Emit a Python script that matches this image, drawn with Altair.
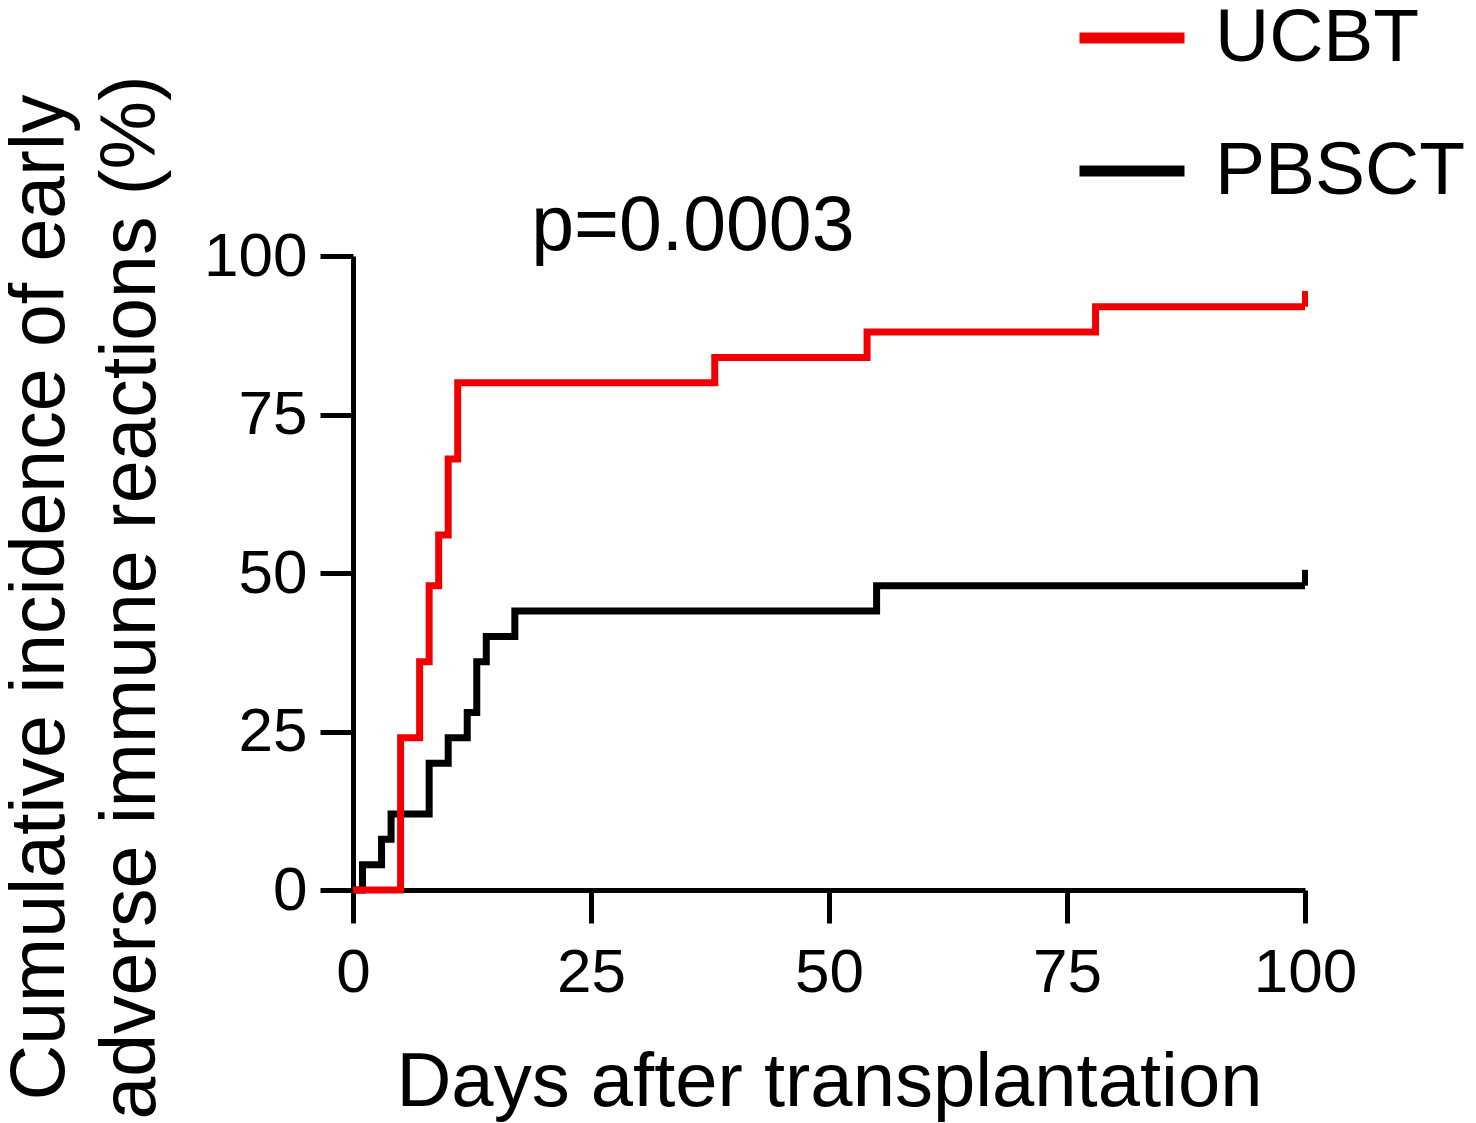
import altair as alt
import pandas as pd

# ---- data ----
groups = ["UCBT", "PBSCT"]
colors = ["#f00000", "#000000"]

ucbt_days = [0, 5, 7, 8, 9, 10, 11, 38, 54, 78, 100]
ucbt_pct = [0, 24, 36, 48, 56, 68, 80, 84, 88, 92, 92]

pbsct_days = [0, 1, 3, 4, 8, 10, 12, 13, 14, 17, 55, 100]
pbsct_pct = [0, 4, 8, 12, 20, 24, 28, 36, 40, 44, 48, 48]

censor_group = ["UCBT", "PBSCT"]
censor_day = [100, 100]
censor_low = [92, 48]
censor_high = [94.5, 50.5]

x_ticks = [0, 25, 50, 75, 100]
y_ticks = [0, 25, 50, 75, 100]

p_text = ["p=0.0003"]
p_day = [35.7]
p_pct = [101]

x_title = "Days after transplantation"
y_title = ["Cumulative incidence of early", "adverse immune reactions (%)"]

# ---- tables ----
rows = []
for d, v in zip(pbsct_days, pbsct_pct):
    rows.append({"group": "PBSCT", "day": d, "pct": v})
for d, v in zip(ucbt_days, ucbt_pct):
    rows.append({"group": "UCBT", "day": d, "pct": v})
df = pd.DataFrame(rows)

cens = pd.DataFrame({"group": censor_group, "day": censor_day,
                     "low": censor_low, "high": censor_high})
pdf = pd.DataFrame({"label": p_text, "day": p_day, "pct": p_pct})

FONT = "Liberation Sans"

xscale = alt.Scale(domain=[0, 100], nice=False)
yscale = alt.Scale(domain=[0, 100], nice=False)
cscale = alt.Scale(domain=groups, range=colors)

xaxis = alt.Axis(values=x_ticks, title=x_title, titleFontSize=76, titleFont=FONT,
                 titleFontWeight="normal", titleBaseline="alphabetic", titleY=215,
                 labelFontSize=62, labelFont=FONT, labelPadding=19,
                 labelFlush=False, labelOverlap=False, grid=False,
                 domainColor="black", domainWidth=5, tickColor="black",
                 tickWidth=5, tickSize=33, labelColor="black", titleColor="black")
yaxis = alt.Axis(values=y_ticks, title=y_title, titleFontSize=77, titleFont=FONT,
                 titleFontWeight="normal", titleBaseline="alphabetic",
                 titleX=-290, titleY=341, titleAlign="center", titleLineHeight=91,
                 labelFontSize=62, labelFont=FONT, labelPadding=13,
                 labelFlush=False, labelOverlap=False, grid=False,
                 domainColor="black", domainWidth=5, tickColor="black",
                 tickWidth=5, tickSize=33, labelColor="black", titleColor="black")

legend = alt.Legend(title=None, orient="none", legendX=721, legendY=-276,
                    symbolType="stroke", symbolSize=11025, symbolStrokeWidth=11,
                    labelFontSize=75, labelFont=FONT, labelOffset=25,
                    rowPadding=37, padding=0, labelLimit=500, labelColor="black")

lines = alt.Chart(df).mark_line(interpolate="step-after", strokeWidth=7).encode(
    x=alt.X("day:Q", scale=xscale, axis=xaxis),
    y=alt.Y("pct:Q", scale=yscale, axis=yaxis),
    color=alt.Color("group:N", scale=cscale, legend=legend),
    detail="group:N",
)

ticks = alt.Chart(cens).mark_rule(strokeWidth=6).encode(
    x="day:Q",
    y="low:Q",
    y2="high:Q",
    color=alt.Color("group:N", scale=cscale, legend=None),
)

ptext = alt.Chart(pdf).mark_text(fontSize=77, font=FONT, align="center",
                                 baseline="alphabetic", color="black").encode(
    x="day:Q",
    y="pct:Q",
    text="label:N",
)

chart = alt.layer(lines, ticks, ptext).properties(
    width=952,
    height=634,
    background="white",
    autosize=alt.AutoSizeParams(type="none"),
    padding={"left": 345, "top": 248, "right": 163, "bottom": 233},
).configure_view(stroke=None)

chart.save("out.html", embed_options={"renderer": "svg", "actions": False})
